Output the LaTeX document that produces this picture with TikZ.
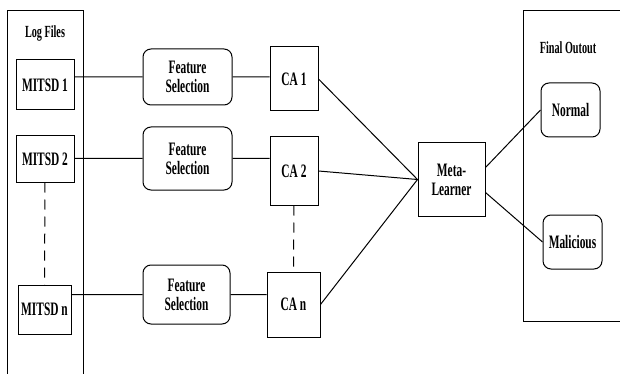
\documentclass[tikz,border=0pt]{standalone}
\usepackage{fontspec}
\setmainfont{Liberation Serif}[FakeStretch=0.6]
\usetikzlibrary{positioning}

\tikzset{
    box/.style={draw, line width=1pt, inner sep=0pt, align=center,
        font=\bfseries\fontsize{19}{19}\selectfont},
    rbox/.style={box, rounded corners=8pt},
    title/.style={font=\bfseries\fontsize{17}{17}\selectfont},
    link/.style={line width=1pt},
    gap/.style={line width=1pt, dash pattern=on 10pt off 7pt}
}

\begin{document}
\begin{tikzpicture}[x=1pt, y=-1pt]
    \useasboundingbox (0,0) rectangle (620,374);

    % containers
    \draw[link] (7,374) |- (83,11) -- (83,374);
    \draw[link] (620,11) -| (523,321) -- (620,321);
    \node[title] (logs) at (45,33) {Log Files};
    \node[title] (final) at (568,48) {Final Outout};

    \node[box, minimum width=58pt, minimum height=50pt] (mitsd1) at (45,85) {MITSD 1};
    \node[box, minimum width=58pt, minimum height=46pt] (mitsd2) at (45,159) {MITSD 2};
    \node[box, minimum width=53pt, minimum height=49pt] (mitsdn) at (44.5,309.5) {MITSD n};

    \node[rbox, minimum width=89pt, minimum height=56pt] (fs1) at (187.5,77) {Feature\\Selection};
    \node[rbox, minimum width=89pt, minimum height=63pt] (fs2) at (187.5,158.5) {Feature\\Selection};
    \node[rbox, minimum width=87pt, minimum height=59pt] (fsn) at (186.5,294.5) {Feature\\Selection};

    \node[box, minimum width=48pt, minimum height=64pt] (ca1) at (294,79) {CA 1};
    \node[box, minimum width=48pt, minimum height=68pt] (ca2) at (294,171) {CA 2};
    \node[box, minimum width=53pt, minimum height=65pt] (can) at (293.5,304.5) {CA n};

    \node[box, minimum width=67pt, minimum height=73pt] (meta) at (451.5,179.5) {Meta-\\Learner};

    \node[rbox, minimum width=59pt, minimum height=54pt] (normal) at (570.5,110) {Normal};
    \node[rbox, minimum width=59pt, minimum height=54pt] (malicious) at (572.5,242) {Malicious};

    \draw[link]
    (fs1.west -| mitsd1.east) -- (fs1.west)
    (fs2.west -| mitsd2.east) -- (fs2.west)
    (fsn.west -| mitsdn.east) -- (fsn.west)
    (fs1.east) -- (ca1.west |- fs1.east)
    (fs2.east) -- (ca2.west |- fs2.east)
    (fsn.east) -- (can.west |- fsn.east)
    (ca1.east) -- (meta.west)
    (ca2.east) -- (meta.west)
    (can.east) -- (meta.west)
    ([yshift=12pt]meta.east) -- (normal.west)
    ([yshift=-13pt]meta.east) -- (malicious.west);

    \draw[gap] (mitsd2) -- (mitsdn);
    \draw[gap] (ca2) -- (can);
\end{tikzpicture}
\end{document}
